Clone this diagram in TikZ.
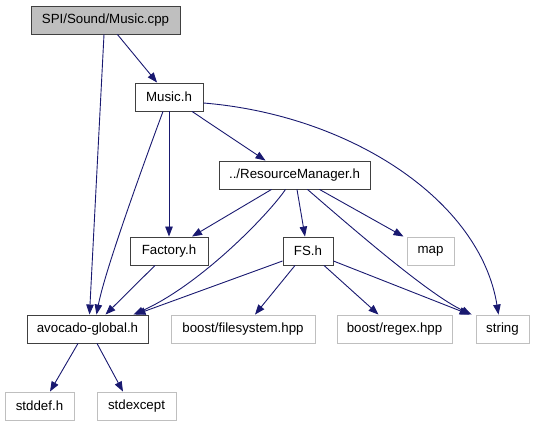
\documentclass[tikz,border=0pt]{standalone}
\usepackage{fontspec}
\setmainfont{Liberation Sans}
\usetikzlibrary{arrows.meta,calc}
\definecolor{edgeblue}{HTML}{191970}
\definecolor{boxgray}{HTML}{BFBFBF}
\definecolor{boxdark}{HTML}{404040}
\begin{document}
\begin{tikzpicture}[x=1pt,y=-1pt,
  filebox/.style={draw=boxdark, line width=0.9pt, fill=white, inner sep=0pt, minimum height=28pt, font=\fontsize{13.3}{16}\selectfont},
  extbox/.style={filebox, draw=boxgray},
  dep/.style={draw=edgeblue, line width=0.9pt, -{Triangle[length=10pt,width=7.5pt]}}]
\useasboundingbox (0,0) rectangle (535,427);
\node[filebox, fill=boxgray, minimum width=149pt] (cpp) at (105.5,20) {SPI/Sound/Music.cpp};
\node[filebox, minimum width=68pt] (musich) at (169,97) {Music.h};
\node[filebox, minimum width=151pt] (rm) at (294.5,175) {../ResourceManager.h};
\node[filebox, minimum width=78pt] (factory) at (169,251) {Factory.h};
\node[filebox, minimum width=50pt] (fs) at (308,251) {FS.h};
\node[extbox, minimum width=47pt] (map) at (430.5,251) {map};
\node[filebox, minimum width=121pt] (avo) at (87.5,329) {avocado-global.h};
\node[extbox, minimum width=144pt] (bfs) at (243,329) {boost/filesystem.hpp};
\node[extbox, minimum width=115pt] (brx) at (394.5,329) {boost/regex.hpp};
\node[extbox, minimum width=53pt] (str) at (502.5,329) {string};
\node[extbox, minimum width=69pt] (stddef) at (39.5,406) {stddef.h};
\node[extbox, minimum width=79pt] (stdexc) at (136.5,406) {stdexcept};

\draw[dep] (cpp) -- (musich);
\draw[dep] ([xshift=-1.5pt]cpp.south) -- ([xshift=2pt]avo.north);
\draw[dep] ([xshift=-6pt]musich.south) .. controls (145,160) and (105,270) .. ([xshift=9pt]avo.north);
\draw[dep] (musich) -- (factory);
\draw[dep] ([xshift=23pt]musich.south) -- ([xshift=-29pt]rm.north);
\draw[dep] ([yshift=-6pt]musich.east) .. controls (350,115) and (480,200) .. ([xshift=-4pt]str.north);
\draw[dep] ([xshift=-23pt]rm.south) -- ([xshift=23pt]factory.north);
\draw[dep] ([xshift=-9pt]rm.south) .. controls (268,215) and (200,285) .. ([xshift=46pt]avo.north);
\draw[dep] ([xshift=2.5pt]rm.south) -- ([xshift=-3pt]fs.north);
\draw[dep] ([xshift=25pt]rm.south) -- ([xshift=-27pt]map.north);
\draw[dep] ([xshift=13pt]rm.south) .. controls (360,235) and (430,295) .. ([xshift=-4pt]str.north west);
\draw[dep] ([xshift=-14pt]factory.south) -- ([xshift=18pt]avo.north);
\draw[dep] ([yshift=-10pt]fs.west) -- ([xshift=48pt]avo.north);
\draw[dep] ([xshift=-13pt]fs.south) -- ([xshift=12pt]bfs.north);
\draw[dep] ([xshift=16pt]fs.south) -- ([xshift=-16pt]brx.north);
\draw[dep] ([yshift=-10pt]fs.east) -- ([xshift=-6pt]str.north west);
\draw[dep] ([xshift=-9.5pt]avo.south) -- ([xshift=10.5pt]stddef.north);
\draw[dep] ([xshift=9.5pt]avo.south) -- ([xshift=-13.5pt]stdexc.north);
\end{tikzpicture}
\end{document}
